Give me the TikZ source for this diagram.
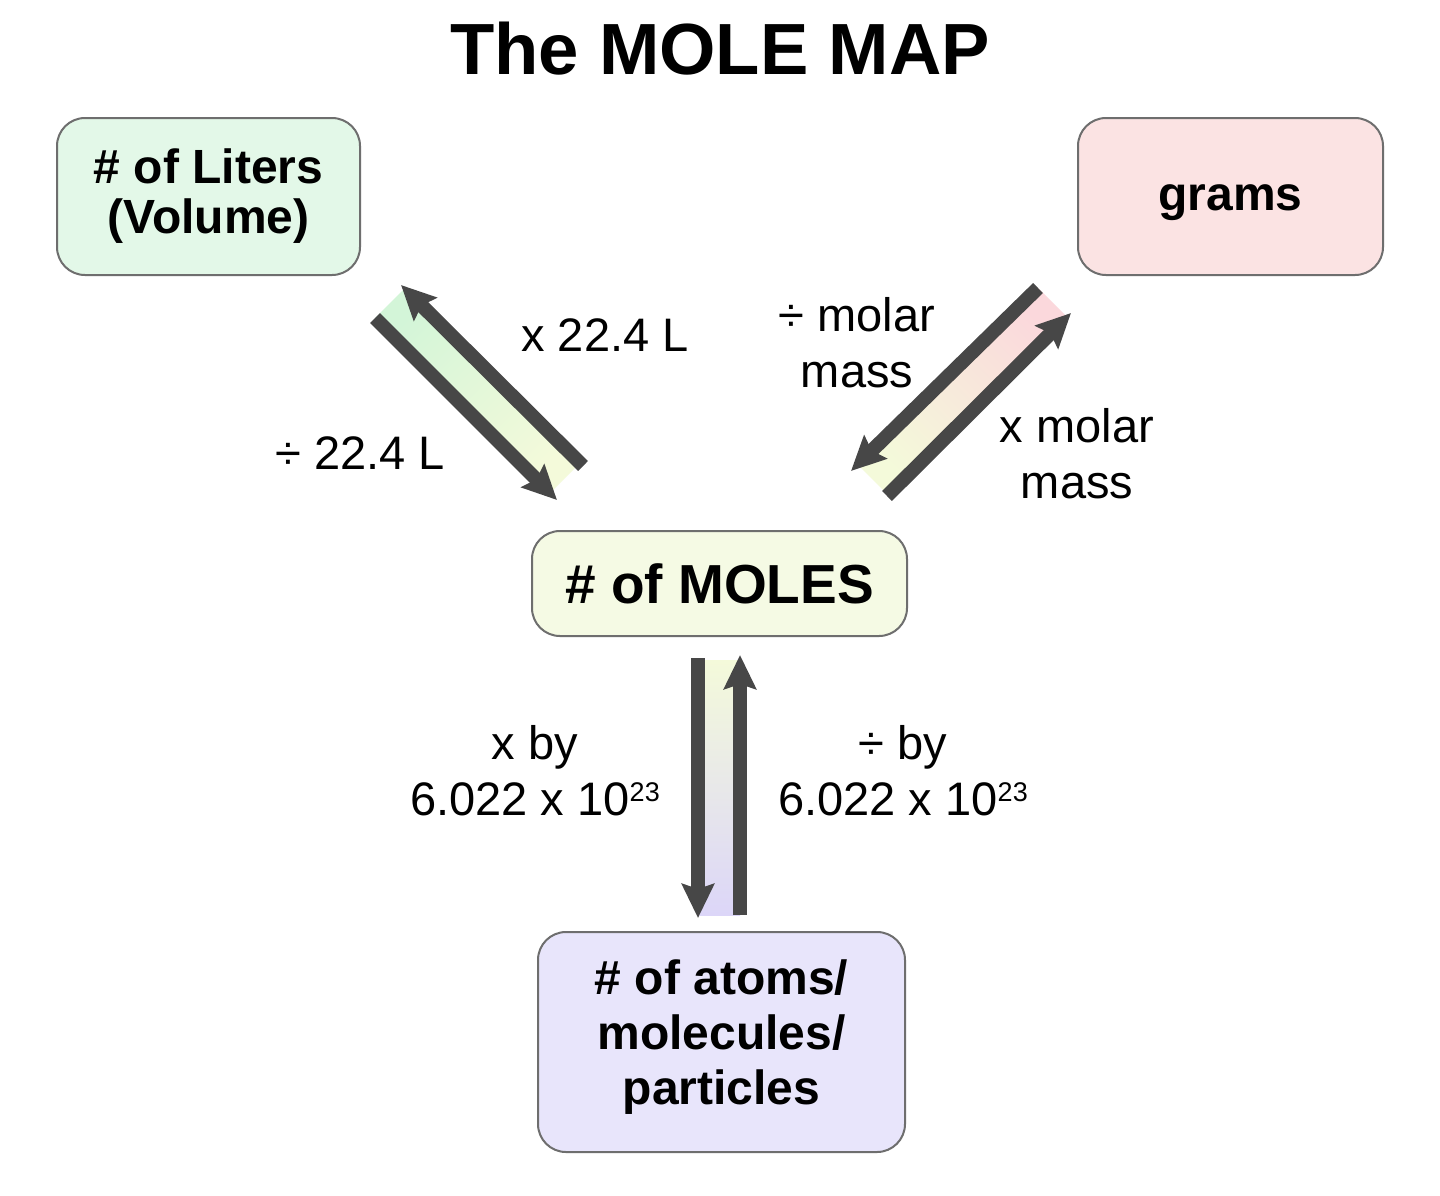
\documentclass[tikz,border=0pt]{standalone}
\usepackage{fontspec}
\setmainfont{Liberation Sans}
\usetikzlibrary{arrows.meta}
\definecolor{arrowgray}{HTML}{474747}
\definecolor{boxborder}{HTML}{6E6E6E}
\definecolor{litersfill}{HTML}{E3F8E8}
\definecolor{gramsfill}{HTML}{FBE3E3}
\definecolor{molesfill}{HTML}{F5FAE4}
\definecolor{atomsfill}{HTML}{E8E5FB}
\definecolor{stripgreen}{HTML}{D3F5D8}
\definecolor{stripyellow}{HTML}{F4FADA}
\definecolor{strippink}{HTML}{FBD8DC}
\definecolor{striplav}{HTML}{DCD6F8}
\newcommand{\sciexp}[1]{\raisebox{14pt}{\fontsize{27}{27}\selectfont #1}}
\tikzset{
  mbox/.style={draw=boxborder, line width=2pt, rounded corners=28pt, align=center, inner sep=0pt},
  conv/.style={draw=arrowgray, line width=14pt, -{Stealth[length=34pt,width=32pt,inset=5pt]}},
  convlabel/.style={align=center, font=\fontsize{47}{56}\selectfont, inner sep=0pt},
}
\begin{document}
\begin{tikzpicture}[x=1pt,y=-1pt]
\useasboundingbox[fill=white] (0,0) rectangle (1440,1195);

% title
\node[anchor=base, font=\fontsize{72.5}{80}\selectfont\bfseries] (title) at (720,74) {The MOLE MAP};

% boxes
\node[mbox, fill=litersfill, minimum width=303pt, minimum height=157pt, font=\fontsize{48}{50}\selectfont\bfseries] (liters) at (208.5,196.5) {\# of Liters\\(Volume)};
\node[mbox, fill=gramsfill, minimum width=305pt, minimum height=157pt, text height=37pt, text depth=10pt, font=\fontsize{48}{50}\selectfont\bfseries] (grams) at (1230.5,196.5) {grams};
\node[mbox, fill=molesfill, minimum width=375pt, minimum height=105pt, font=\fontsize{55}{60}\selectfont\bfseries] (moles) at (719.5,583.5) {\# of MOLES};
\node[mbox, fill=atomsfill, minimum width=367pt, minimum height=220pt, text depth=19pt, font=\fontsize{48}{55}\selectfont\bfseries] (atoms) at (721.5,1042) {\# of atoms/\\molecules/\\particles};

% gradient strips
\shade[top color=stripgreen, bottom color=stripyellow, shading angle=45] (375,318) -- (405,288) -- (580,463) -- (550,493) -- cycle;
\shade[top color=strippink, bottom color=stripyellow, shading angle=-45] (1038,288) -- (1068,318) -- (888,495) -- (858,465) -- cycle;
\shade[top color=stripyellow, bottom color=striplav] (698,660) rectangle (740,915);

% arrow end points
\coordinate (l1s) at (375,318);  \coordinate (l1e) at (557,500);
\coordinate (l2s) at (583,466);  \coordinate (l2e) at (401,285);
\coordinate (r1s) at (1038,288); \coordinate (r1e) at (851,471);
\coordinate (r2s) at (887,496);  \coordinate (r2e) at (1071,313);
\coordinate (v1s) at (698,658);  \coordinate (v1e) at (698,918);
\coordinate (v2s) at (740,915);  \coordinate (v2e) at (740,655);

% arrows
\draw[conv] (l1s) -- (l1e);
\draw[conv] (l2s) -- (l2e);
\draw[conv] (r1s) -- (r1e);
\draw[conv] (r2s) -- (r2e);
\draw[conv] (v1s) -- (v1e);
\draw[conv] (v2s) -- (v2e);

% labels
\node[convlabel] (lx) at (605,335) {x 22.4 L};
\node[convlabel] (ld) at (360,453) {÷ 22.4 L};
\node[convlabel] (rd) at (857,343) {÷ molar\\mass};
\node[convlabel] (rx) at (1077,454) {x molar\\mass};
\node[convlabel] (vx) at (535,771) {x by\\6.022 x 10\sciexp{23}};
\node[convlabel] (vd) at (903,771) {÷ by\\6.022 x 10\sciexp{23}};
\end{tikzpicture}
\end{document}
